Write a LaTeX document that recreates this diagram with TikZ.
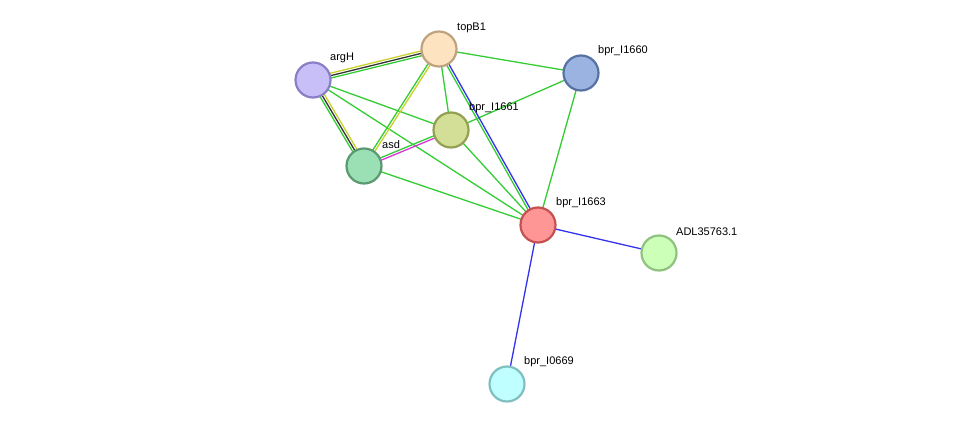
\documentclass[tikz,border=0pt]{standalone}
\usepackage{fontspec}
\setmainfont{Liberation Sans}
\usetikzlibrary{calc}
\begin{document}
\begin{tikzpicture}[x=1pt,y=-1pt,
  prot/.style={circle,minimum size=35pt,inner sep=0pt,line width=2.2pt},
  lab/.style={font=\fontsize{11}{13}\selectfont,anchor=south west,inner sep=1pt},
  e/.style={line width=1.3pt}]
\useasboundingbox (0,0) rectangle (976,430);
\definecolor{eg}{HTML}{33CC33}
\definecolor{ey}{HTML}{C8D22A}
\definecolor{eb}{HTML}{3333EE}
\definecolor{ek}{HTML}{333333}
\definecolor{em}{HTML}{DD33DD}
\coordinate (argH) at (313,80);
\coordinate (topB1) at (439,49);
\coordinate (n1661) at (451,130);
\coordinate (asd) at (364,166);
\coordinate (n1660) at (581,73);
\coordinate (n1663) at (538,225);
\coordinate (adl) at (659,253);
\coordinate (n0669) at (507,384);
\newcommand{\offl}[4]{\draw[e,#4] ($(#1)!#3!90:(#2)$) -- ($(#2)!#3!-90:(#1)$);}
% single green
\foreach \a/\b in {argH/n1661,argH/n1663,asd/n1663,topB1/n1661,topB1/n1660,n1661/n1660,n1661/n1663,n1660/n1663}
  \draw[e,eg] (\a) -- (\b);
\offl{topB1}{argH}{-2.4pt}{ey}
\offl{topB1}{argH}{0pt}{ek}
\offl{topB1}{argH}{2.4pt}{eg}
\offl{argH}{asd}{-2.4pt}{eg}
\offl{argH}{asd}{0pt}{ek}
\offl{argH}{asd}{2.4pt}{ey}
\offl{topB1}{asd}{-1.2pt}{eg}
\offl{topB1}{asd}{1.2pt}{ey}
\offl{asd}{n1661}{-1.2pt}{em}
\offl{asd}{n1661}{1.2pt}{eg}
\offl{topB1}{n1663}{-1.2pt}{eg}
\offl{topB1}{n1663}{1.2pt}{eb}
\draw[e,eb] (n1663) -- (adl);
\draw[e,eb] (n1663) -- (n0669);
\node[prot,fill={rgb,255:red,200;green,191;blue,249},draw={rgb,255:red,138;green,127;blue,197}] at (argH) {};
\node[prot,fill={rgb,255:red,253;green,227;blue,192},draw={rgb,255:red,191;green,163;blue,127}] at (topB1) {};
\node[prot,fill={rgb,255:red,211;green,222;blue,151},draw={rgb,255:red,147;green,160;blue,82}] at (n1661) {};
\node[prot,fill={rgb,255:red,155;green,223;blue,181},draw={rgb,255:red,90;green,153;blue,112}] at (asd) {};
\node[prot,fill={rgb,255:red,154;green,179;blue,224},draw={rgb,255:red,87;green,113;blue,163}] at (n1660) {};
\node[prot,fill={rgb,255:red,255;green,150;blue,150},draw={rgb,255:red,196;green,80;blue,80}] at (n1663) {};
\node[prot,fill={rgb,255:red,204;green,255;blue,184},draw={rgb,255:red,143;green,194;blue,127}] at (adl) {};
\node[prot,fill={rgb,255:red,191;green,255;blue,255},draw={rgb,255:red,127;green,191;blue,191}] at (n0669) {};
\node[lab] (l1) at (329,64) {argH};
\node[lab] (l2) at (456,34) {topB1};
\node[lab] (l3) at (468,114) {bpr\_I1661};
\node[lab] (l4) at (381,150) {asd};
\node[lab] (l5) at (597,57) {bpr\_I1660};
\node[lab] (l6) at (555,209) {bpr\_I1663};
\node[lab] (l7) at (675,237) {ADL35763.1};
\node[lab] (l8) at (523,368) {bpr\_I0669};
\end{tikzpicture}
\end{document}
